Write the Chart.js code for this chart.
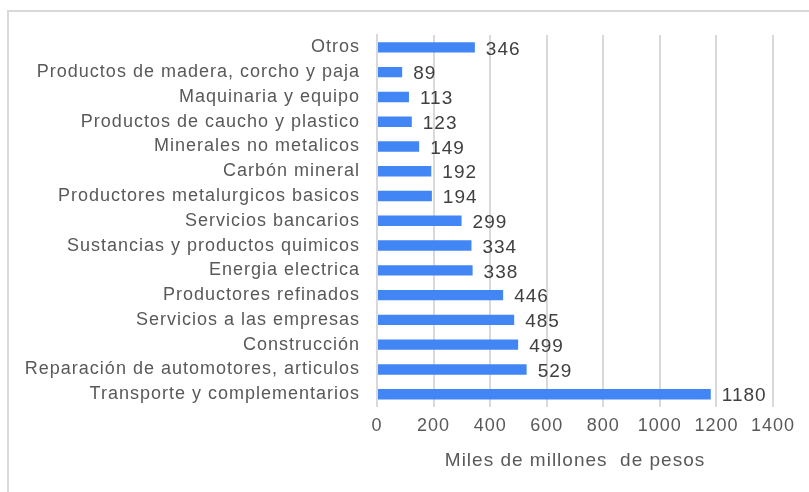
<!DOCTYPE html>
<html>
<head>
<meta charset="utf-8">
<script src="https://cdn.jsdelivr.net/npm/chart.js@4"></script>
<style>
  html, body { margin: 0; padding: 0; background: #fff; }
  #wrap { position: relative; width: 809px; height: 492px; overflow: hidden; }
  #frame { position: absolute; left: 7px; top: 10px; width: 900px; height: 600px; border: 2px solid #d9d9d9; }
  canvas { position: absolute; left: 0; top: 0; }
</style>
</head>
<body>
<div id="wrap">
  <div id="frame"></div>
  <canvas id="c" width="809" height="492"></canvas>
</div>
<script>
// categorias (de arriba hacia abajo) y valores en miles de millones de pesos
var categorias = [
  'Otros',
  'Productos de madera, corcho y paja',
  'Maquinaria y equipo',
  'Productos de caucho y plastico',
  'Minerales no metalicos',
  'Carbón mineral',
  'Productores metalurgicos basicos',
  'Servicios bancarios',
  'Sustancias y productos quimicos',
  'Energia electrica',
  'Productores refinados',
  'Servicios a las empresas',
  'Construcción',
  'Reparación de automotores, articulos',
  'Transporte y complementarios'
];
var valores = [346, 89, 113, 123, 149, 192, 194, 299, 334, 338, 446, 485, 499, 529, 1180];
var ticksX = [0, 200, 400, 600, 800, 1000, 1200, 1400];

var FONT = "'Liberation Sans', Arial, sans-serif";
Chart.defaults.font.family = FONT;
Chart.defaults.color = '#595959';

// espaciado entre letras, como en la imagen original
var espaciado = {
  id: 'espaciado',
  beforeUpdate: function(chart) { chart.ctx.letterSpacing = '1px'; },
  beforeDraw: function(chart) { chart.ctx.letterSpacing = '1px'; }
};

var etiquetas = {
  id: 'etiquetas',
  afterDatasetsDraw: function(chart) {
    var ctx = chart.ctx;
    var meta = chart.getDatasetMeta(0);
    ctx.save();
    ctx.font = '19px ' + FONT;
    ctx.fillStyle = '#404040';
    ctx.textBaseline = 'middle';
    ctx.textAlign = 'left';
    meta.data.forEach(function(bar, i) {
      ctx.fillText(String(valores[i]), bar.x + 11, bar.y + 2);
    });
    ctx.restore();
  }
};

new Chart(document.getElementById('c').getContext('2d'), {
  type: 'bar',
  data: {
    labels: categorias,
    datasets: [{ data: valores, backgroundColor: '#4285F4', barPercentage: 0.42, categoryPercentage: 1 }]
  },
  options: {
    indexAxis: 'y',
    responsive: false,
    animation: false,
    layout: { padding: { left: 20, right: 36, top: 35, bottom: 20 } },
    plugins: { legend: { display: false }, tooltip: { enabled: false } },
    scales: {
      x: {
        min: 0, max: 1400,
        afterBuildTicks: function(scale) { scale.ticks = ticksX.map(function(v) { return { value: v }; }); },
        grid: { color: '#d9d9d9', lineWidth: 2, drawTicks: false },
        border: { display: false },
        ticks: { font: { size: 18 }, color: '#595959', padding: 9, maxRotation: 0,
          callback: function(v) { return String(v); } },
        title: { display: true, text: 'Miles de millones  de pesos', font: { size: 19 }, color: '#595959', padding: { top: 3, bottom: 0 } }
      },
      y: {
        grid: { display: false, drawTicks: false },
        border: { display: true, color: '#d9d9d9', width: 2 },
        ticks: { font: { size: 18 }, color: '#595959', padding: 17, autoSkip: false },
        afterFit: function(scale) { scale.width = 357; }
      }
    }
  },
  plugins: [espaciado, etiquetas]
});
</script>
</body>
</html>
